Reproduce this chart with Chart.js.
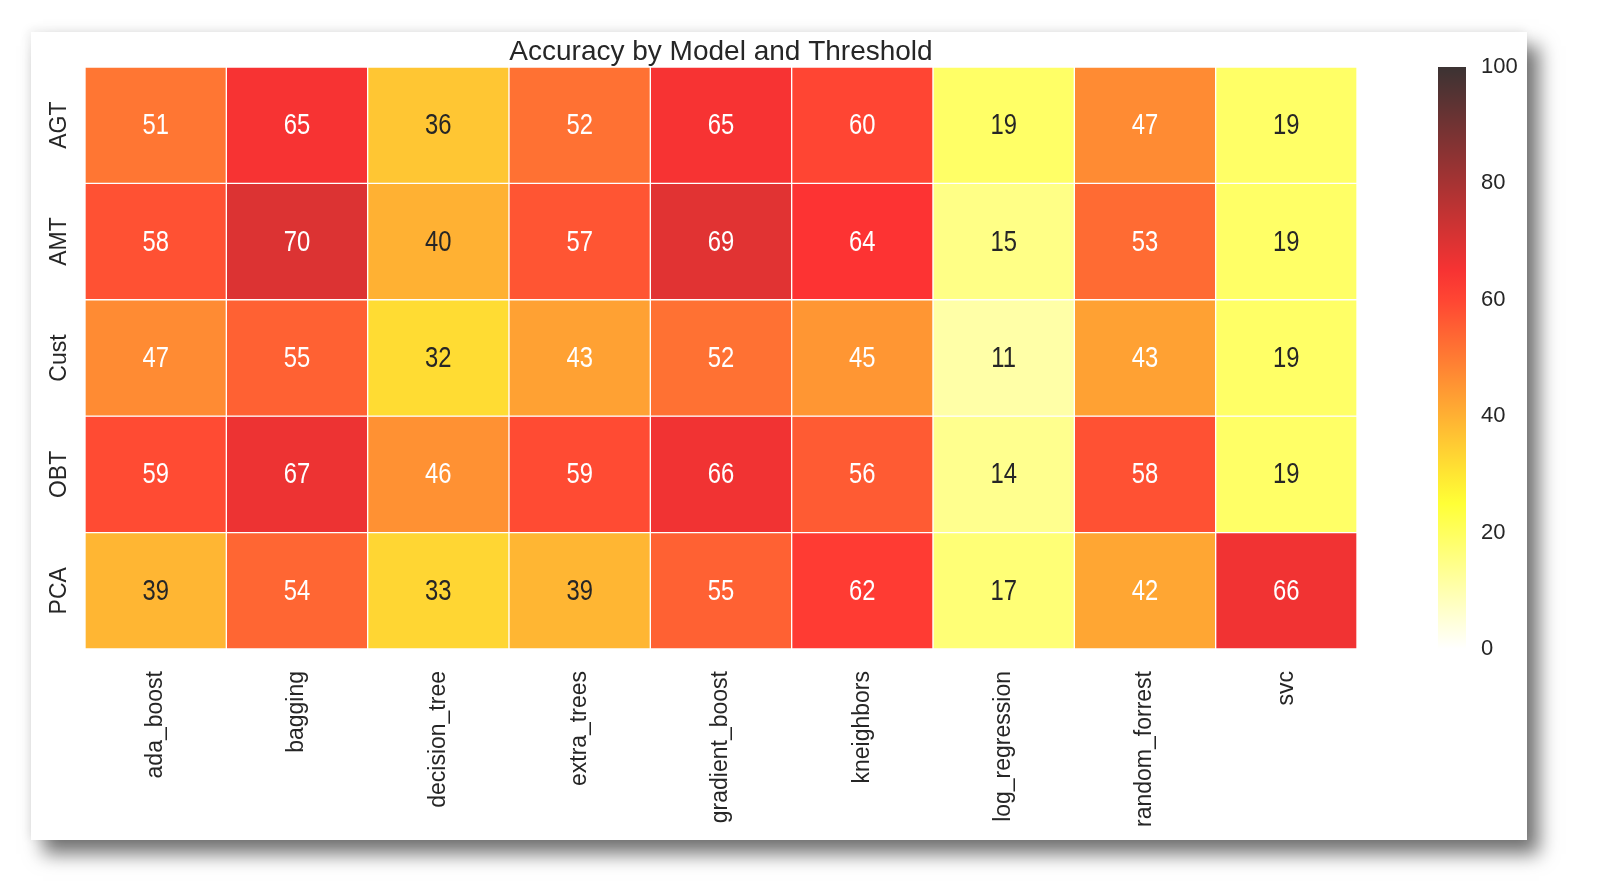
<!DOCTYPE html>
<html>
<head>
<meta charset="utf-8">
<script src="https://cdn.jsdelivr.net/npm/chart.js@4.4.0/dist/chart.umd.min.js"></script>
<style>
  html, body { margin: 0; padding: 0; background: #fff; }
  #page { position: relative; width: 1600px; height: 892px; overflow: hidden; background: #fff; }
  #card {
    position: absolute; left: 31px; top: 32px; width: 1496px; height: 808px; background: #fff;
    box-shadow: 12px 14px 18px rgba(0,0,0,0.55), -2px -2px 10px rgba(0,0,0,0.08);
  }
  #heatWrap { position: absolute; left: 0; top: 0; width: 1380px; height: 808px; }
  #barWrap { position: absolute; left: 1389px; top: 0; width: 107px; height: 808px; }
</style>
</head>
<body>
<div id="page">
  <div id="card">
    <div id="heatWrap"><canvas id="heatChart"></canvas></div>
    <div id="barWrap"><canvas id="colorBar"></canvas></div>
  </div>
</div>
<script>
const models = ['ada_boost', 'bagging', 'decision_tree', 'extra_trees', 'gradient_boost',
  'kneighbors', 'log_regression', 'random_forrest', 'svc'];
const thresholds = ['AGT', 'AMT', 'Cust', 'OBT', 'PCA'];

const agtValues = [51, 65, 36, 52, 65, 60, 19, 47, 19];
const amtValues = [58, 70, 40, 57, 69, 64, 15, 53, 19];
const custValues = [47, 55, 32, 43, 52, 45, 11, 43, 19];
const obtValues = [59, 67, 46, 59, 66, 56, 14, 58, 19];
const pcaValues = [39, 54, 33, 39, 55, 62, 17, 42, 66];

const colorTicks = [0, 20, 40, 60, 80, 100];

const rowValues = [agtValues, amtValues, custValues, obtValues, pcaValues];
const textColor = '#262626';
const fontFamily = "'Liberation Sans', Arial, sans-serif";

// matplotlib hot_r, drawn with alpha 0.8
const hotR = (v, alpha = 0.8) => {
  const x = 1 - Math.max(0, Math.min(100, v)) / 100;
  let r = x >= 0.365079 ? 1 : 0.0416 + (1 - 0.0416) * x / 0.365079;
  let g = x <= 0.365079 ? 0 : x >= 0.746032 ? 1 : (x - 0.365079) / (0.746032 - 0.365079);
  let b = x <= 0.746032 ? 0 : (x - 0.746032) / (1 - 0.746032);
  return `rgba(${Math.round(r * 255)},${Math.round(g * 255)},${Math.round(b * 255)},${alpha})`;
};

const cellLabels = {
  id: 'cellLabels',
  afterDatasetsDraw(chart) {
    const ctx = chart.ctx;
    ctx.save();
    ctx.font = '29px ' + fontFamily;
    ctx.textAlign = 'center';
    ctx.textBaseline = 'middle';
    chart.data.datasets.forEach((ds, di) => {
      const meta = chart.getDatasetMeta(di);
      meta.data.forEach((bar, i) => {
        const v = rowValues[di][i];
        ctx.fillStyle = v > 41 ? '#ffffff' : textColor;
        ctx.save();
        ctx.translate(bar.x, (bar.y + bar.base) / 2 + 1);
        ctx.scale(0.82, 1); // annotations are narrow in the original
        ctx.fillText(String(v), 0, 0);
        ctx.restore();
      });
    });
    // row labels, rotated like the column labels
    const y = chart.scales.y;
    ctx.font = '23px ' + fontFamily;
    ctx.fillStyle = textColor;
    thresholds.forEach((name, i) => {
      ctx.save();
      ctx.translate(chart.chartArea.left - 25, y.getPixelForValue(i + 0.5));
      ctx.rotate(-Math.PI / 2);
      ctx.fillText(name, 0, 0);
      ctx.restore();
    });
    ctx.restore();
  }
};

const configHeatChart = () => {
  return new Chart(document.getElementById('heatChart'), {
    type: 'bar',
    data: {
      labels: models,
      datasets: thresholds.map((name, di) => ({
        label: name,
        data: models.map(() => 1),
        backgroundColor: rowValues[di].map((v) => hotR(v)),
        borderColor: 'rgba(255,255,255,0.75)',
        borderWidth: 1,
        borderSkipped: false,
        barPercentage: 1,
        categoryPercentage: 1,
      })),
    },
    options: {
      responsive: true,
      maintainAspectRatio: false,
      animation: false,
      layout: { padding: { left: 54, right: 54, top: 0, bottom: 0 } },
      plugins: {
        legend: { display: false },
        tooltip: { enabled: false },
        title: {
          display: true,
          text: 'Accuracy by Model and Threshold',
          color: textColor,
          font: { family: fontFamily, size: 28, weight: 'normal', lineHeight: 1.07 },
          padding: { top: 5, bottom: 0 },
        },
      },
      scales: {
        x: {
          stacked: true,
          grid: { display: false },
          border: { display: false },
          ticks: {
            color: textColor,
            font: { family: fontFamily, size: 23 },
            minRotation: 90,
            maxRotation: 90,
            padding: 14,
          },
          afterFit: (s) => { s.height = 191; },
        },
        y: {
          stacked: true,
          reverse: true,
          min: 0,
          max: thresholds.length,
          grid: { display: false },
          border: { display: false },
          ticks: { display: false },
          afterFit: (s) => { s.width = 0; },
        },
      },
    },
    plugins: [cellLabels],
  });
};

const configColorBar = () => {
  return new Chart(document.getElementById('colorBar'), {
    type: 'bar',
    data: {
      labels: [''],
      datasets: [{
        data: [[0, 100]],
        backgroundColor: (c) => {
          const area = c.chart.chartArea;
          if (!area) return hotR(50);
          const g = c.chart.ctx.createLinearGradient(0, area.bottom, 0, area.top);
          for (let v = 0; v <= 100; v += 5) g.addColorStop(v / 100, hotR(v));
          return g;
        },
        borderWidth: 0,
        barPercentage: 1,
        categoryPercentage: 1,
      }],
    },
    options: {
      responsive: true,
      maintainAspectRatio: false,
      animation: false,
      layout: { padding: { left: 18, right: 0, top: 35, bottom: 191 } },
      plugins: { legend: { display: false }, tooltip: { enabled: false } },
      scales: {
        x: { display: false },
        y: {
          position: 'right',
          min: 0,
          max: 100,
          afterBuildTicks: (s) => { s.ticks = colorTicks.map((v) => ({ value: v })); },
          grid: { display: false },
          border: { display: false },
          ticks: {
            color: textColor,
            font: { family: fontFamily, size: 22 },
            padding: 7,
          },
          afterFit: (s) => { s.width = 61; },
        },
      },
    },
  });
};

configHeatChart();
configColorBar();
</script>
</body>
</html>
